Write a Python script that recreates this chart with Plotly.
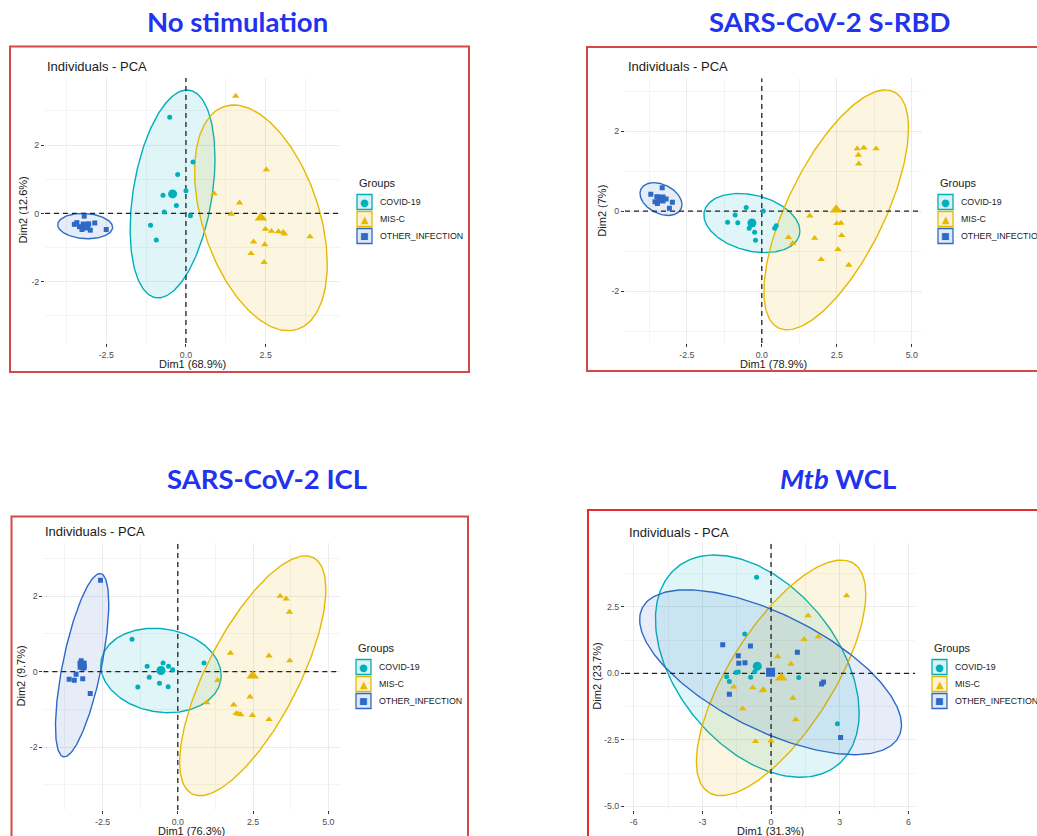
import numpy as np
import plotly.graph_objects as go

FIG_W, FIG_H = 1037, 836

groups = ["COVID-19", "MIS-C", "OTHER_INFECTION"]
group_colors = ["#00AFBB", "#E7B800", "#2E6AC5"]
group_symbols = ["circle", "triangle-up", "square"]
legend_glyphs = ["\u25CF", "\u25B2", "\u25A0"]

# ---------------- No stimulation ----------------
nostim_covid_x = [-0.51, 0.22, -0.26, 0.00, -0.72, -0.30, -0.68, 0.14, -1.11, -0.93]
nostim_covid_y = [2.81, 1.50, 1.14, 0.66, 0.53, 0.23, 0.04, -0.07, -0.35, -0.78]
nostim_misc_x = [1.56, 2.52, 0.88, 1.68, 1.42, 2.49, 2.68, 2.90, 3.05, 3.09, 3.89, 2.12, 2.47, 2.04, 2.45]
nostim_misc_y = [3.43, 1.28, 0.58, 0.31, -0.02, -0.46, -0.52, -0.53, -0.55, -0.60, -0.68, -0.83, -0.91, -1.17, -1.43]
nostim_other_x = [-3.19, -3.50, -3.34, -3.26, -3.16, -3.08, -3.00, -2.86, -2.50, -3.42, -3.05]
nostim_other_y = [-0.08, -0.32, -0.39, -0.47, -0.34, -0.41, -0.49, -0.28, -0.47, -0.27, -0.31]
nostim_centroid_x = [-0.42, 2.35, -3.16]
nostim_centroid_y = [0.57, -0.13, -0.37]
nostim_ellipse_hx = [1.33, 2.08, 0.86]
nostim_ellipse_hy = [3.04, 3.30, 0.37]
nostim_ellipse_r = [0.34, -0.41, -0.10]
nostim_axis_titles = ["Dim1 (68.9%)", "Dim2 (12.6%)"]
nostim_xticks = [-2.5, 0.0, 2.5]
nostim_xtick_labels = ["-2.5", "0.0", "2.5"]
nostim_yticks = [-2, 0, 2]
nostim_ytick_labels = ["-2", "0", "2"]

# ---------------- SARS-CoV-2 S-RBD ----------------
srbd_covid_x = [0.05, -0.52, -0.89, -1.14, -0.80, -0.42, -0.24, -0.21, 0.48, 0.43]
srbd_covid_y = [0.00, 0.09, -0.10, -0.28, -0.29, -0.43, -0.53, -0.73, -0.37, -0.43]
srbd_misc_x = [3.18, 3.40, 3.81, 3.22, 3.23, 1.60, 2.50, 2.64, 2.66, 1.76, 0.89, 2.54, 1.98, 2.90, 1.03]
srbd_misc_y = [1.56, 1.58, 1.56, 1.40, 1.18, -0.12, -0.31, -0.30, -0.61, -0.68, -0.66, -0.96, -1.21, -1.35, -0.81]
srbd_other_x = [-3.32, -3.70, -3.50, -3.41, -3.56, -3.33, -3.19, -2.98, -3.08, -3.48]
srbd_other_y = [0.58, 0.42, 0.36, 0.29, 0.23, 0.34, 0.30, 0.22, 0.07, 0.19]
srbd_centroid_x = [-0.33, 2.48, -3.36]
srbd_centroid_y = [-0.30, 0.03, 0.30]
srbd_ellipse_hx = [1.60, 2.41, 0.70]
srbd_ellipse_hy = [0.74, 3.00, 0.41]
srbd_ellipse_r = [-0.27, 0.68, -0.34]
srbd_axis_titles = ["Dim1 (78.9%)", "Dim2 (7%)"]
srbd_xticks = [-2.5, 0.0, 2.5, 5.0]
srbd_xtick_labels = ["-2.5", "0.0", "2.5", "5.0"]
srbd_yticks = [-2, 0, 2]
srbd_ytick_labels = ["-2", "0", "2"]

# ---------------- SARS-CoV-2 ICL ----------------
icl_covid_x = [-1.52, -1.02, -0.49, -0.31, -0.17, -0.95, -0.61, -0.32, -1.33, 0.87]
icl_covid_y = [0.86, 0.14, 0.23, 0.14, 0.05, -0.15, -0.31, -0.40, -0.41, 0.23]
icl_misc_x = [3.40, 3.60, 3.71, 1.75, 3.03, 3.72, 1.33, 0.96, 2.40, 1.86, 1.94, 2.01, 2.09, 2.48, 3.03]
icl_misc_y = [2.00, 1.93, 1.58, 0.49, 0.42, 0.29, -0.23, -0.82, -0.67, -0.88, -1.11, -1.12, -1.14, -1.16, -1.27]
icl_other_x = [-2.57, -3.21, -3.24, -3.20, -3.13, -3.11, -3.15, -3.38, -3.61, -3.44, -3.16, -2.91]
icl_other_y = [2.42, 0.29, 0.22, 0.18, 0.22, 0.13, 0.09, -0.07, -0.20, -0.23, -0.19, -0.58]
icl_centroid_x = [-0.56, 2.49, -3.18]
icl_centroid_y = [0.03, -0.11, 0.17]
icl_ellipse_hx = [2.00, 2.43, 0.885]
icl_ellipse_hy = [1.12, 3.18, 2.43]
icl_ellipse_r = [-0.12, 0.72, 0.67]
icl_axis_titles = ["Dim1 (76.3%)", "Dim2 (9.7%)"]
icl_xticks = [-2.5, 0.0, 2.5, 5.0]
icl_xtick_labels = ["-2.5", "0.0", "2.5", "5.0"]
icl_yticks = [-2, 0, 2]
icl_ytick_labels = ["-2", "0", "2"]

# ---------------- Mtb WCL ----------------
mtb_covid_x = [-0.63, -1.15, -1.94, -1.82, -1.53, -0.89, -0.71, 1.21, 2.90, -1.43]
mtb_covid_y = [3.61, 1.48, -0.13, -0.31, 0.03, -0.15, 0.06, -0.16, -1.90, 0.05]
mtb_misc_x = [3.30, 1.62, 2.07, 1.44, 0.29, 0.87, -1.63, -0.80, -0.38, -0.33, 0.96, -1.24, 1.08, -0.68, 0.00]
mtb_misc_y = [2.92, 2.17, 1.38, 1.28, 0.63, 0.35, -0.51, -0.54, -0.65, -0.61, -0.93, -1.33, -1.74, -2.56, -2.54]
mtb_other_x = [-2.11, -0.90, -1.43, -1.14, -1.41, 1.15, -1.82, 2.21, 2.29, 3.04]
mtb_other_y = [1.07, 1.03, 0.66, 0.40, 0.38, 0.79, -0.79, -0.40, -0.33, -2.41]
mtb_centroid_x = [-0.60, 0.44, -0.02]
mtb_centroid_y = [0.27, -0.17, 0.04]
mtb_ellipse_hx = [4.45, 3.70, 5.72]
mtb_ellipse_hy = [4.18, 4.43, 3.10]
mtb_ellipse_r = [-0.42, 0.71, -0.64]
mtb_axis_titles = ["Dim1 (31.3%)", "Dim2 (23.7%)"]
mtb_xticks = [-6, -3, 0, 3, 6]
mtb_xtick_labels = ["-6", "-3", "0", "3", "6"]
mtb_yticks = [-5.0, -2.5, 0.0, 2.5]
mtb_ytick_labels = ["-5.0", "-2.5", "0.0", "2.5"]

# Panel definitions: data plus pixel placement of each ggplot-style panel
panels = [
    dict(title="No stimulation", title_xy=(237, 22),
         points=[(nostim_covid_x, nostim_covid_y), (nostim_misc_x, nostim_misc_y), (nostim_other_x, nostim_other_y)],
         cx=nostim_centroid_x, cy=nostim_centroid_y,
         hx=nostim_ellipse_hx, hy=nostim_ellipse_hy, r=nostim_ellipse_r,
         axis_titles=nostim_axis_titles,
         xticks=(nostim_xticks, nostim_xtick_labels), yticks=(nostim_yticks, nostim_ytick_labels),
         box=(45, 340, 78, 343), xrange=(-4.42, 4.83), yrange=(-3.79, 3.96),
         frame=(10, 46.5, 469, 372), frame_color="#D64848",
         subtitle_xy=(45, 66), legend_xy=(357, 183), ytitle_x=22),
    dict(title="SARS-CoV-2 S-RBD", title_xy=(830, 22),
         points=[(srbd_covid_x, srbd_covid_y), (srbd_misc_x, srbd_misc_y), (srbd_other_x, srbd_other_y)],
         cx=srbd_centroid_x, cy=srbd_centroid_y,
         hx=srbd_ellipse_hx, hy=srbd_ellipse_hy, r=srbd_ellipse_r,
         axis_titles=srbd_axis_titles,
         xticks=(srbd_xticks, srbd_xtick_labels), yticks=(srbd_yticks, srbd_ytick_labels),
         box=(625, 921.7, 78.3, 343), xrange=(-4.56, 5.33), yrange=(-3.30, 3.32),
         frame=(587, 47, 1050, 371), frame_color="#D64848",
         subtitle_xy=(626, 66), legend_xy=(938, 183), ytitle_x=602),
    dict(title="SARS-CoV-2 ICL", title_xy=(267, 478),
         points=[(icl_covid_x, icl_covid_y), (icl_misc_x, icl_misc_y), (icl_other_x, icl_other_y)],
         cx=icl_centroid_x, cy=icl_centroid_y,
         hx=icl_ellipse_hx, hy=icl_ellipse_hy, r=icl_ellipse_r,
         axis_titles=icl_axis_titles,
         xticks=(icl_xticks, icl_xtick_labels), yticks=(icl_yticks, icl_ytick_labels),
         box=(43.3, 340, 543, 810), xrange=(-4.47, 5.39), yrange=(-3.67, 3.41),
         frame=(11.5, 516.5, 468, 850), frame_color="#D64848",
         subtitle_xy=(43, 531), legend_xy=(356, 648), ytitle_x=20),
    dict(title="<i>Mtb</i> WCL", title_xy=(838, 478),
         points=[(mtb_covid_x, mtb_covid_y), (mtb_misc_x, mtb_misc_y), (mtb_other_x, mtb_other_y)],
         cx=mtb_centroid_x, cy=mtb_centroid_y,
         hx=mtb_ellipse_hx, hy=mtb_ellipse_hy, r=mtb_ellipse_r,
         axis_titles=mtb_axis_titles,
         xticks=(mtb_xticks, mtb_xtick_labels), yticks=(mtb_yticks, mtb_ytick_labels),
         box=(625, 915, 543.3, 810), xrange=(-6.38, 6.29), yrange=(-5.14, 4.89),
         frame=(588, 510, 1050, 850), frame_color="#E22E2E",
         subtitle_xy=(627, 532), legend_xy=(932, 648), ytitle_x=597),
]


def fx(px):
    return px / FIG_W


def fy(py):
    return 1 - py / FIG_H


def rgba(hex_color, alpha):
    h = hex_color.lstrip("#")
    r, g, b = int(h[0:2], 16), int(h[2:4], 16), int(h[4:6], 16)
    return f"rgba({r},{g},{b},{alpha})"


def minor_ticks(major, lo, hi):
    step = major[1] - major[0]
    cand = [m - step / 2 for m in major] + [major[-1] + step / 2]
    return [v for v in cand if lo <= v <= hi]


def ellipse_path(cx, cy, hx, hy, r, n=240):
    t = np.linspace(0, 2 * np.pi, n)
    x = cx + hx * np.cos(t)
    y = cy + hy * (r * np.cos(t) + np.sqrt(1 - r * r) * np.sin(t))
    return x, y


fig = go.Figure()
shapes = []
annotations = []
TEXT = "#1A1A1A"
BASE_FONT = "Liberation Sans, Arial, sans-serif"

for i, p in enumerate(panels, start=1):
    s = "" if i == 1 else str(i)
    xa, ya = f"x{s}", f"y{s}"
    left, right, top, bottom = p["box"]
    x0, x1 = p["xrange"]
    y0, y1 = p["yrange"]

    # confidence ellipses
    for g in range(3):
        ex, ey = ellipse_path(p["cx"][g], p["cy"][g], p["hx"][g], p["hy"][g], p["r"][g])
        fig.add_trace(go.Scatter(
            x=ex, y=ey, mode="lines", fill="toself",
            fillcolor=rgba(group_colors[g], 0.12),
            line=dict(color=group_colors[g], width=1.4),
            xaxis=xa, yaxis=ya, hoverinfo="skip", showlegend=False))

    # dashed reference lines through the origin, spanning the panel
    dash = dict(color="#222222", width=1.3, dash="5px,4px")
    fig.add_trace(go.Scatter(x=[0, 0], y=[y0, y1], mode="lines", line=dash,
                             xaxis=xa, yaxis=ya, hoverinfo="skip", showlegend=False))
    fig.add_trace(go.Scatter(x=[x0, x1], y=[0, 0], mode="lines", line=dash,
                             xaxis=xa, yaxis=ya, hoverinfo="skip", showlegend=False))

    # individuals
    for g in range(3):
        gx, gy = p["points"][g]
        fig.add_trace(go.Scatter(
            x=gx, y=gy, mode="markers", name=groups[g],
            marker=dict(symbol=group_symbols[g], color=group_colors[g],
                        size=[5, 6.5, 5][g], line=dict(width=0)),
            xaxis=xa, yaxis=ya, showlegend=False))

    # group mean points
    for g in range(3):
        fig.add_trace(go.Scatter(
            x=[p["cx"][g]], y=[p["cy"][g]], mode="markers",
            marker=dict(symbol=group_symbols[g], color=group_colors[g],
                        size=[9, 11, 9][g], line=dict(width=0)),
            xaxis=xa, yaxis=ya, hoverinfo="skip", showlegend=False))

    xt, xtl = p["xticks"]
    yt, ytl = p["yticks"]
    common = dict(
        ticks="outside", ticklen=3, tickwidth=1, tickcolor="#333333",
        tickfont=dict(size=8.8, color="#4D4D4D", family=BASE_FONT),
        showgrid=True, gridcolor="#EBEBEB", gridwidth=1,
        zeroline=False, showline=False, fixedrange=True,
    )
    fig.update_layout(**{
        f"xaxis{s}": dict(domain=[fx(left), fx(right)], range=[x0, x1], anchor=ya,
                          tickvals=xt, ticktext=xtl,
                          minor=dict(tickvals=minor_ticks(xt, x0, x1), showgrid=True,
                                     gridcolor="#F4F4F4", gridwidth=1, ticks=""),
                          **common),
        f"yaxis{s}": dict(domain=[fy(bottom), fy(top)], range=[y0, y1], anchor=xa,
                          tickvals=yt, ticktext=ytl,
                          minor=dict(tickvals=minor_ticks(yt, y0, y1), showgrid=True,
                                     gridcolor="#F4F4F4", gridwidth=1, ticks=""),
                          **common),
    })

    # red frame around the panel
    fl, ft, fr, fb = p["frame"]
    shapes.append(dict(type="rect", xref="paper", yref="paper",
                       x0=fx(fl), x1=fx(fr), y0=fy(fb), y1=fy(ft),
                       line=dict(color=p["frame_color"], width=2), fillcolor="rgba(0,0,0,0)"))

    # panel heading
    tx, ty = p["title_xy"]
    annotations.append(dict(text=f"<b>{p['title']}</b>", x=fx(tx), y=fy(ty), xref="paper", yref="paper",
                            xanchor="center", yanchor="middle", showarrow=False,
                            font=dict(family="Lato, sans-serif", size=27.5, color="#2233EE")))

    # plot subtitle
    sx, sy = p["subtitle_xy"]
    annotations.append(dict(text="Individuals - PCA", x=fx(sx), y=fy(sy), xref="paper", yref="paper",
                            xanchor="left", yanchor="middle", showarrow=False,
                            font=dict(family=BASE_FONT, size=13, color=TEXT)))

    # axis titles
    annotations.append(dict(text=p["axis_titles"][0], x=fx((left + right) / 2), y=fy(bottom + 21),
                            xref="paper", yref="paper", xanchor="center", yanchor="middle",
                            showarrow=False, font=dict(family=BASE_FONT, size=11, color=TEXT)))
    annotations.append(dict(text=p["axis_titles"][1], x=fx(p["ytitle_x"]), y=fy((top + bottom) / 2),
                            xref="paper", yref="paper", xanchor="center", yanchor="middle",
                            textangle=-90, showarrow=False,
                            font=dict(family=BASE_FONT, size=11, color=TEXT)))

    # legend: title, keyed boxes and labels
    lx, ly = p["legend_xy"]
    annotations.append(dict(text="Groups", x=fx(lx), y=fy(ly), xref="paper", yref="paper",
                            xanchor="left", yanchor="middle", showarrow=False,
                            font=dict(family=BASE_FONT, size=11, color=TEXT)))
    key = 15
    for g in range(3):
        cy_px = ly + 19 + 17 * g
        shapes.append(dict(type="rect", xref="paper", yref="paper",
                           x0=fx(lx), x1=fx(lx + key), y0=fy(cy_px + key / 2), y1=fy(cy_px - key / 2),
                           line=dict(color=group_colors[g], width=1.3),
                           fillcolor=rgba(group_colors[g], 0.15)))
        annotations.append(dict(text=legend_glyphs[g], x=fx(lx + key / 2), y=fy(cy_px),
                                xref="paper", yref="paper", xanchor="center", yanchor="middle",
                                showarrow=False,
                                font=dict(family="DejaVu Sans", size=[10, 10, 9][g], color=group_colors[g])))
        annotations.append(dict(text=groups[g], x=fx(lx + key + 6), y=fy(cy_px),
                                xref="paper", yref="paper", xanchor="left", yanchor="middle",
                                showarrow=False, font=dict(family=BASE_FONT, size=8.8, color=TEXT)))

fig.update_layout(
    width=FIG_W, height=FIG_H, autosize=False,
    margin=dict(l=0, r=0, t=0, b=0),
    paper_bgcolor="white", plot_bgcolor="white",
    showlegend=False, hovermode=False,
    font=dict(family=BASE_FONT, color=TEXT),
    shapes=shapes, annotations=annotations,
)

fig.write_html("out.html")
